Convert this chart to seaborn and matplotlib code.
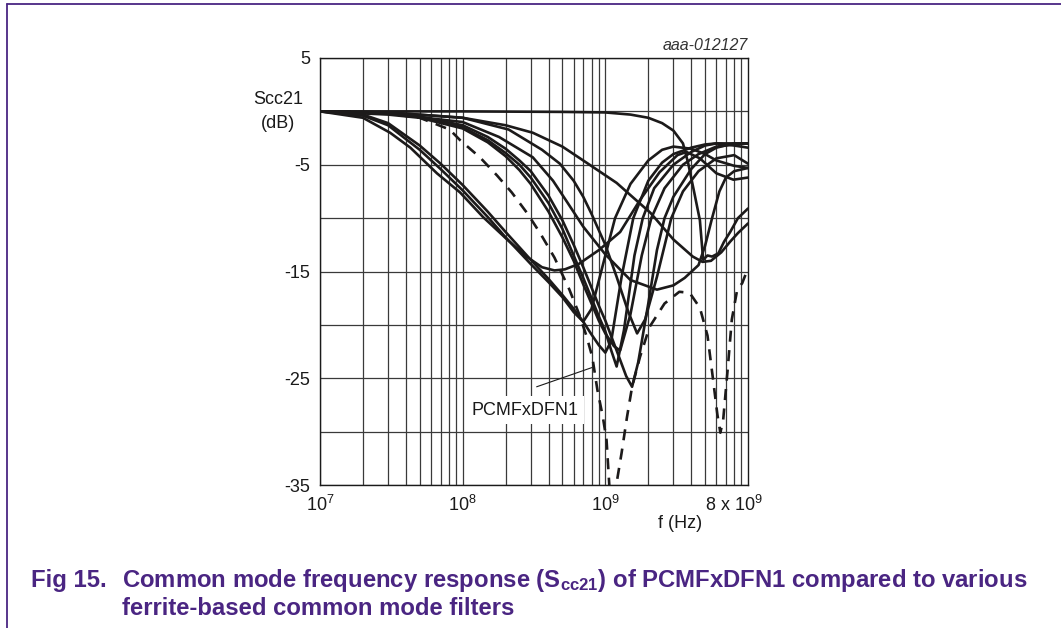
import numpy as np
import pandas as pd
import matplotlib
matplotlib.use("Agg")
import matplotlib.pyplot as plt
import seaborn as sns
from matplotlib.lines import Line2D

# ---------------- data (frequency in Hz, Scc21 in dB) ----------------
f_s1 = [1e7, 1e8, 5e8, 1e9, 1.5e9, 2e9, 2.5e9, 3e9, 3.5e9, 3.8e9, 4.2e9, 4.6e9, 4.85e9, 5.2e9, 5.6e9, 6.2e9, 6.8e9, 7.5e9, 8.5e9, 1e10]
db_s1 = [0, 0, -0.05, -0.1, -0.3, -0.6, -1.1, -1.8, -3.0, -4.8, -7.6, -10.2, -13.9, -13.5, -13.6, -13.3, -12.2, -11.3, -10.0, -9.1]

f_s2 = [1e7, 3e7, 1e8, 2e8, 3.1e8, 5e8, 7e8, 1.2e9, 2.07e9, 3e9, 4.1e9, 4.8e9, 5.5e9, 6.5e9, 7.5e9, 8.5e9, 1e10]
db_s2 = [0, -0.1, -0.6, -1.3, -2.0, -3.3, -4.6, -6.7, -9.5, -12.0, -13.6, -14.1, -14.0, -13.2, -12.2, -11.4, -10.5]

f_s3 = [1e7, 3e7, 1e8, 1.8e8, 3.1e8, 4.3e8, 5.4e8, 7e8, 1e9, 1.5e9, 2.3e9, 3e9, 3.6e9, 4.5e9, 5e9, 5.6e9, 6.3e9, 7e9, 8e9, 1e10]
db_s3 = [0, -0.2, -1.0, -2.4, -4.3, -6.5, -8.5, -10.8, -13.4, -15.8, -16.7, -16.3, -15.6, -14.4, -12.6, -10.0, -7.5, -6.2, -5.6, -5.3]

f_s4 = [1e7, 2e7, 3.1e7, 4.3e7, 6.6e7, 9.6e7, 1.39e8, 2.05e8, 2.8e8, 3.6e8, 4.4e8, 5.2e8, 6.5e8, 9e8, 1.27e9, 1.75e9, 2.4e9, 3.2e9, 3.7e9, 4.6e9, 6e9, 7.9e9, 1e10]
db_s4 = [0, -0.6, -2.0, -3.4, -5.8, -7.6, -9.9, -12.0, -13.6, -14.6, -14.9, -14.8, -14.3, -13.0, -11.3, -8.3, -5.7, -4.1, -3.8, -4.4, -5.8, -6.4, -6.2]

f_s5 = [1e7, 2e7, 3e7, 5e7, 7e7, 1e8, 1.5e8, 2e8, 3e8, 4e8, 5e8, 6e8, 7e8, 8e8, 1e9, 1.17e9, 1.5e9, 2e9, 2.5e9, 3e9, 4e9, 5e9, 6e9, 8e9, 1e10]
db_s5 = [0, -0.4, -1.3, -3.6, -5.4, -7.4, -9.9, -11.8, -14.3, -16.0, -17.4, -18.8, -19.7, -18.5, -13.5, -10.0, -6.8, -4.6, -3.6, -3.3, -3.5, -4.0, -4.6, -5.1, -5.3]

f_s6 = [1e7, 2e7, 3e7, 5e7, 7e7, 1e8, 1.5e8, 2e8, 3e8, 4e8, 5e8, 6e8, 7e8, 8e8, 9e8, 1e9, 1.1e9, 1.3e9, 1.57e9, 2e9, 2.5e9, 3e9, 4e9, 5e9, 6e9, 8e9, 1e10]
db_s6 = [0, -0.3, -1.1, -3.2, -4.9, -6.9, -9.4, -11.3, -13.9, -15.7, -17.2, -18.5, -19.7, -20.9, -21.9, -22.6, -21.5, -15.5, -10.0, -6.5, -4.8, -4.0, -3.4, -3.1, -3.0, -3.2, -3.4]

f_s7 = [1e7, 3e7, 5e7, 1e8, 1.5e8, 2e8, 2.5e8, 3e8, 4e8, 5e8, 6e8, 7e8, 8e8, 9e8, 1e9, 1.1e9, 1.2e9, 1.35e9, 1.6e9, 1.83e9, 2.2e9, 3e9, 4e9, 5e9, 6e9, 8e9, 1e10]
db_s7 = [0, -0.2, -0.5, -1.5, -2.7, -3.9, -5.0, -6.2, -8.6, -11.0, -13.5, -15.6, -17.5, -19.2, -20.6, -22.4, -23.9, -20.5, -13.5, -10.0, -7.2, -5.0, -3.8, -3.2, -3.0, -3.0, -3.0]

f_s8 = [1e7, 3e7, 5e7, 1e8, 1.5e8, 2e8, 2.5e8, 3e8, 4e8, 5e8, 6e8, 7e8, 8e8, 9e8, 1e9, 1.2e9, 1.4e9, 1.54e9, 1.7e9, 2e9, 2.3e9, 2.6e9, 3e9, 4e9, 5e9, 6e9, 8e9, 1e10]
db_s8 = [0, -0.2, -0.5, -1.3, -2.4, -3.5, -4.6, -5.6, -7.9, -10.2, -12.5, -14.6, -16.5, -18.2, -19.6, -22.4, -24.8, -25.8, -23.5, -18.0, -13.0, -10.0, -8.0, -5.4, -4.0, -3.4, -3.0, -3.0]

f_s9 = [1e7, 3e7, 1e8, 2.1e8, 3.6e8, 4.8e8, 6e8, 7e8, 8e8, 1e9, 1.2e9, 1.45e9, 1.67e9, 1.9e9, 2.3e9, 2.9e9, 3.5e9, 4.5e9, 6e9, 8e9, 1e10]
db_s9 = [0, -0.1, -0.6, -1.7, -3.6, -4.9, -6.5, -8.0, -9.6, -12.5, -15.5, -18.8, -20.8, -19.5, -15.5, -10.0, -7.5, -5.6, -4.4, -4.1, -4.9]

f_s10 = [1e7, 3e7, 5e7, 1e8, 1.5e8, 2e8, 2.5e8, 3e8, 4e8, 5e8, 6e8, 7e8, 8e8, 9e8, 1e9, 1.15e9, 1.27e9, 1.5e9, 1.8e9, 2.1e9, 2.6e9, 3.5e9, 4.5e9, 6e9, 8e9, 1e10]
db_s10 = [0, -0.3, -0.6, -1.6, -2.9, -4.2, -5.5, -6.8, -9.4, -11.8, -14.0, -16.2, -18.0, -19.6, -20.8, -22.0, -22.4, -19.0, -13.5, -10.0, -7.2, -5.0, -4.0, -3.3, -3.1, -3.0]

# PCMFxDFN1 (dashed)
f_pcmf = [1e7, 3e7, 5e7, 8.1e7, 9.6e7, 1.32e8, 1.74e8, 2.21e8, 2.82e8, 3.49e8, 4.4e8, 5.6e8, 6.6e8, 7.4e8, 8.1e8, 8.8e8, 9.6e8, 1.02e9, 1.1e9, 1.2e9, 1.3e9, 1.42e9, 1.54e9, 1.75e9, 2.04e9, 2.6e9, 3.3e9, 3.9e9, 4.6e9, 5.2e9, 5.7e9, 6.1e9, 6.4e9, 6.7e9, 7.2e9, 7.7e9, 8.4e9, 9.1e9, 1e10]
db_pcmf = [0, -0.2, -0.6, -1.7, -2.7, -4.3, -6.0, -7.6, -9.5, -11.4, -13.7, -16.7, -19.1, -21.1, -23.0, -26.1, -28.6, -30.8, -38.0, -34.8, -32.0, -28.6, -25.8, -23.0, -20.2, -18.0, -16.9, -17.0, -18.4, -21.0, -25.2, -28.4, -30.1, -28.9, -24.2, -19.5, -16.7, -16.1, -14.7]

solid_curves = [(f_s1, db_s1), (f_s2, db_s2), (f_s3, db_s3), (f_s4, db_s4), (f_s5, db_s5),
                (f_s6, db_s6), (f_s7, db_s7), (f_s8, db_s8), (f_s9, db_s9), (f_s10, db_s10)]

x_major = [1e7, 1e8, 1e9, 8e9]
x_major_labels = ["10$^{7}$", "10$^{8}$", "10$^{9}$", "8 x 10$^{9}$"]
y_major = [5, -5, -15, -25, -35]
y_minor = [0, -10, -20, -30]

# ---------------- style ----------------
sns.set_style("white")
plt.rcParams['font.family'] = ['Liberation Sans', 'DejaVu Sans']
plt.rcParams['mathtext.fontset'] = 'custom'
plt.rcParams['mathtext.rm'] = 'Liberation Sans'
plt.rcParams['mathtext.it'] = 'Liberation Sans:italic'
plt.rcParams['mathtext.bf'] = 'Liberation Sans:bold'

W, H = 1061, 628
fig = plt.figure(figsize=(W / 100, H / 100), dpi=100)
L, R, T, B = 320, 748, 58, 485
ax = fig.add_axes([L / W, 1 - B / H, (R - L) / W, (B - T) / H])

line_col = '#1c1a1a'
for f, d in solid_curves:
    sns.lineplot(x=f, y=d, ax=ax, color=line_col, linewidth=1.9, sort=False, estimator=None)
sns.lineplot(x=f_pcmf, y=db_pcmf, ax=ax, color=line_col, linewidth=1.9, sort=False, estimator=None,
             linestyle=(0, (4.2, 3.2)))

ax.set_xscale('log')
ax.set_xlim(1e7, 1e10)
ax.set_ylim(-35, 5)

minor_x = [m * 10 ** e for e in range(7, 10) for m in range(2, 10)]
ax.set_xticks(x_major)
ax.set_xticklabels(x_major_labels)
ax.set_xticks(minor_x, minor=True)
ax.set_yticks(y_major)
ax.set_yticklabels([str(v) for v in y_major])
ax.set_yticks(y_minor, minor=True)
ax.tick_params(which='both', length=0)
ax.tick_params(axis='x', which='major', pad=7, labelsize=13, colors='#1a1a1a')
ax.tick_params(axis='y', which='major', pad=7, labelsize=13, colors='#1a1a1a')
ax.xaxis.set_minor_formatter(matplotlib.ticker.NullFormatter())
ax.grid(True, which='both', color='#3a3a3a', linewidth=0.9)
ax.set_axisbelow(True)
for s in ax.spines.values():
    s.set_color('#1a1a1a')
    s.set_linewidth(1.0)
ax.set_xlabel("")
ax.set_ylabel("")

# annotation label for PCMFxDFN1
ax.text(2.73e8, -28.0, "PCMFxDFN1", fontsize=13, ha='center', va='center', color='#1a1a1a',
        bbox=dict(facecolor='white', edgecolor='none', pad=4), zorder=5)
ax.plot([3.3e8, 8.05e8], [-25.8, -24.0], color='#1a1a1a', lw=0.8, zorder=6)

# texts
fig.text(278 / W, 1 - 100 / H, "Scc21", ha='center', va='center', fontsize=13, color='#1a1a1a')
fig.text(278 / W, 1 - 124 / H, "(dB)", ha='center', va='center', fontsize=13, color='#1a1a1a')
fig.text(680 / W, 1 - 523 / H, "f (Hz)", ha='center', va='center', fontsize=13, color='#1a1a1a')
fig.text(748 / W, 1 - 46 / H, "aaa-012127", ha='right', va='center', fontsize=11.5, style='italic', color='#333333')

purple = '#4a2582'
fig.text(31 / W, 1 - 587 / H, "Fig 15.", ha='left', va='baseline', fontsize=17.2, fontweight='bold', color=purple)
fig.text(122 / W, 1 - 587 / H, r"Common mode frequency response (S$_{\mathbf{cc21}}$) of PCMFxDFN1 compared to various",
         ha='left', va='baseline', fontsize=17.2, fontweight='bold', color=purple)
fig.text(122 / W, 1 - 615 / H, "ferrite-based common mode filters", ha='left', va='baseline', fontsize=17.2,
         fontweight='bold', color=purple)

# purple frame (left and top)
fig.add_artist(Line2D([7 / W, 7 / W], [0, 1 - 4 / H], transform=fig.transFigure, color=purple, lw=1.3))
fig.add_artist(Line2D([7 / W, 1], [1 - 4 / H, 1 - 4 / H], transform=fig.transFigure, color=purple, lw=1.3))

fig.savefig("out.png", dpi=100)
